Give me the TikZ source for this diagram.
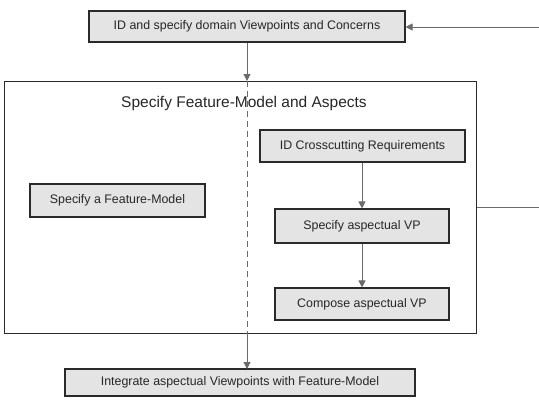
\documentclass[tikz,border=0pt]{standalone}
\usepackage{fontspec}
\setmainfont{Liberation Sans}
\usetikzlibrary{arrows.meta}
\definecolor{boxfill}{HTML}{E4E4E4}
\definecolor{boxline}{HTML}{2A2A2A}
\definecolor{arrowc}{HTML}{6A6A6A}
\begin{document}
\begin{tikzpicture}[x=1pt,y=-1pt,
  proc/.style={draw=boxline,line width=1.1pt,fill=boxfill,inner sep=0pt,font=\fontsize{12.4}{14}\selectfont,text=black!85},
  flow/.style={draw=arrowc,line width=1pt,-{Triangle[length=7pt,width=7pt]}},
  plain/.style={draw=arrowc,line width=1pt}]
\useasboundingbox (0,0) rectangle (539,400);
\node[draw=boxline,line width=1pt,minimum width=472pt,minimum height=252pt,inner sep=0pt] (big) at (240,207) {};
\node[font=\fontsize{15.5}{18}\selectfont,text=black!85] (title) at (244,103) {Specify Feature-Model and Aspects};
\node[proc,minimum width=316pt,minimum height=31pt] (top) at (247,26.5) {ID and specify domain Viewpoints and Concerns};
\node[proc,minimum width=205pt,minimum height=32pt] (idc) at (362.5,146) {ID Crosscutting Requirements};
\node[proc,minimum width=175pt,minimum height=33pt] (sfm) at (117.5,200.5) {Specify a Feature-Model};
\node[proc,minimum width=174pt,minimum height=34pt] (savp) at (362,226) {Specify aspectual VP};
\node[proc,minimum width=174pt,minimum height=32pt] (cavp) at (362,304) {Compose aspectual VP};
\node[proc,minimum width=350pt,minimum height=27pt] (integ) at (240,382.5) {Integrate aspectual Viewpoints with Feature-Model};
\coordinate (inR) at (539,27);
\coordinate (outR) at (539,207);
\coordinate (bigT) at (247,81);
\coordinate (bigB) at (247,333);
\coordinate (integT) at (247,369);
\draw[flow] (inR) -- (top.east |- inR);
\draw[flow] (top.south -| bigT) -- (bigT);
\draw[draw=arrowc,line width=0.9pt,dash pattern=on 6pt off 4pt] (bigT) -- (bigB);
\draw[flow] (bigB) -- (integT);
\draw[flow] (idc.south -| 362,0) -- (savp.north -| 362,0);
\draw[flow] (savp.south) -- (cavp.north);
\draw[plain] (big.east |- outR) -- (outR);
\end{tikzpicture}
\end{document}
